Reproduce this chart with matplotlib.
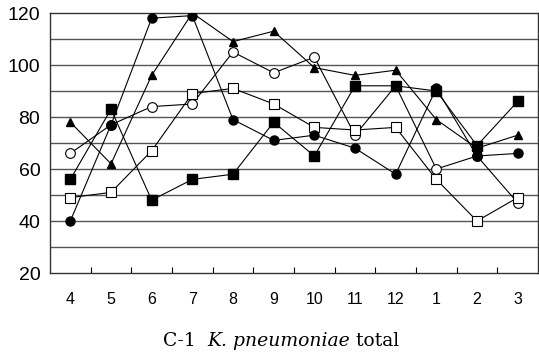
import numpy as np
import matplotlib
matplotlib.use('Agg')
from matplotlib import pyplot as plt

### data
months = ['4', '5', '6', '7', '8', '9', '10', '11', '12', '1', '2', '3']
tri_filled = [78, 62, 96, 120, 109, 113, 99, 96, 98, 79, 68, 73]
sq_filled = [56, 83, 48, 56, 58, 78, 65, 92, 92, 90, 69, 86]
circ_filled = [40, 77, 118, 119, 79, 71, 73, 68, 58, 91, 65, 66]
circ_open = [66, 77, 84, 85, 105, 97, 103, 73, 92, 60, 65, 47]
sq_open = [49, 51, 67, 89, 91, 85, 76, 75, 76, 56, 40, 49]
yticks = [20, 40, 60, 80, 100, 120]

plt.rcParams['font.family'] = ['Liberation Sans', 'DejaVu Sans']

fig = plt.figure(figsize=(5.39, 3.53), dpi=100)
ax = fig.add_axes([50 / 539, 1 - 273 / 353, 488 / 539, 260 / 353])

x = np.arange(len(months))

### grid lines
for g in range(30, 120, 10):
    ax.axhline(g, color='#555555', lw=1.0, zorder=1)

kw = dict(color='black', lw=0.8)
# open markers first so the filled ones sit on top
ax.plot(x, circ_open, marker='o', ms=7, mfc='white', mec='black', mew=0.8, zorder=3, **kw)
ax.plot(x, sq_open, marker='s', ms=7, mfc='white', mec='black', mew=0.8, zorder=3, **kw)
ax.plot(x, tri_filled, marker='^', ms=5.5, mfc='black', mec='black', zorder=4, **kw)
ax.plot(x, sq_filled, marker='s', ms=6.5, mfc='black', mec='black', zorder=4, **kw)
ax.plot(x, circ_filled, marker='o', ms=6.5, mfc='black', mec='black', zorder=4, **kw)

ax.set_xlim(-0.5, len(months) - 0.5)
ax.set_ylim(20, 120)
ax.set_yticks(yticks)
ax.set_yticklabels([str(v) for v in yticks], fontsize=14)
ax.tick_params(axis='y', length=0, pad=7)

ax.set_xticks(x)
ax.set_xticklabels(months, fontsize=11.5)
ax.tick_params(axis='x', which='major', length=0, pad=14)
ax.set_xticks(np.arange(0.5, len(months) - 1, 1.0), minor=True)
ax.tick_params(axis='x', which='minor', direction='in', length=4, width=0.8)

for s in ax.spines.values():
    s.set_linewidth(1.0)
    s.set_color('#333333')

### caption
t1 = fig.text(163 / 539, 1 - 346 / 353, 'C-1  ', family='DejaVu Serif',
              fontsize=13.5, va='baseline', ha='left')
t2 = fig.text(0, 0, 'K. pneumoniae', family='DejaVu Serif', style='italic',
              fontsize=13.5, va='baseline', ha='left')
t3 = fig.text(0, 0, ' total', family='DejaVu Serif',
              fontsize=13.5, va='baseline', ha='left')
fig.canvas.draw()
r = fig.canvas.get_renderer()
bb = t1.get_window_extent(r)
t2.set_position((bb.x1 / fig.bbox.width, t1.get_position()[1]))
bb = t2.get_window_extent(r)
t3.set_position((bb.x1 / fig.bbox.width, t1.get_position()[1]))

fig.savefig('out.png', dpi=100)
